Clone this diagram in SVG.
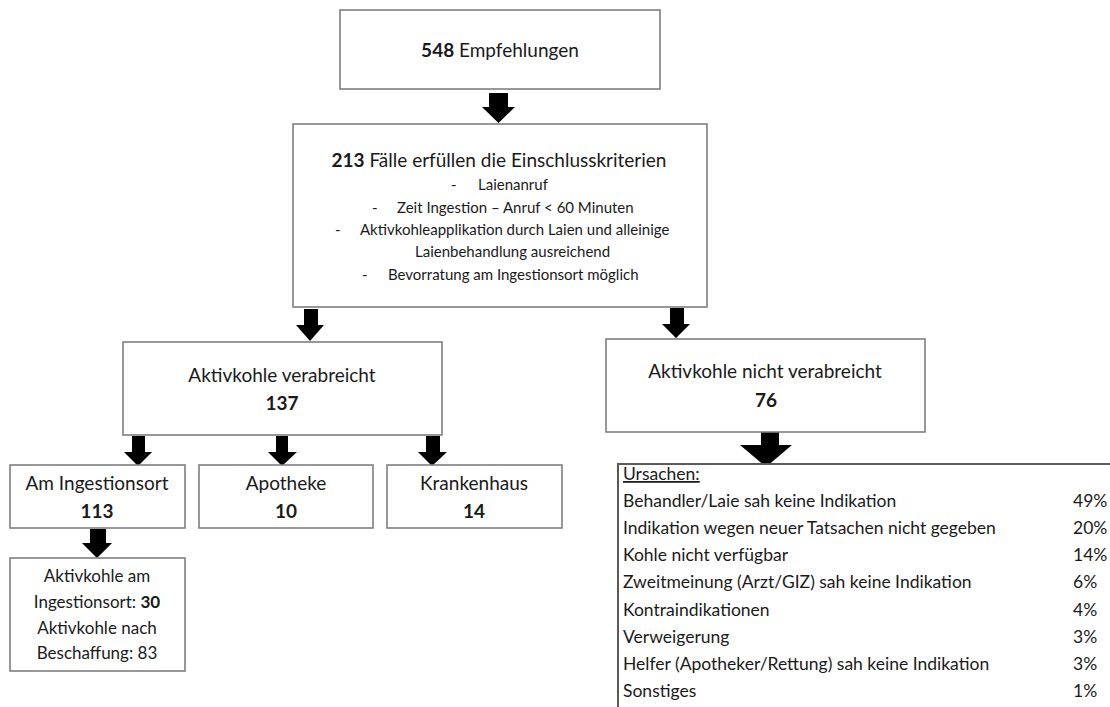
<svg xmlns="http://www.w3.org/2000/svg" width="1110" height="707" viewBox="0 0 1110 707">
<style>
text{font-family:Lato,"Liberation Sans",sans-serif;fill:#1a1a1a}
.b{font-weight:bold}
.box{fill:#fff;stroke:#7f7f7f;stroke-width:1.6}
.c{text-anchor:middle}
.arr{fill:#000}
.l{font-size:19px}
.s{font-size:15px}
.u{font-size:17.5px}
</style>
<rect width="1110" height="707" fill="#fff"/>
<g id="connectors">
<polygon class="arr" points="489,93 508,93 508,107 515,107 498.5,123 482,107 489,107"/>
<polygon class="arr" points="304,309 318,309 318,325 324,325 310,341 296,325 304,325"/>
<polygon class="arr" points="670,308 684,308 684,324 690,324 676,338 662,324 670,324"/>
<polygon class="arr" points="132,436 145,436 145,452 152,452 138,466 124,452 132,452"/>
<polygon class="arr" points="276,436 288,436 288,452 297,452 282,466 268,452 276,452"/>
<polygon class="arr" points="426,436 440,436 440,452 447,452 432,466 418,452 426,452"/>
<polygon class="arr" points="90,529 106,529 106,543 112,543 97,558 82,543 90,543"/>
<polygon class="arr" points="761,423 779,423 779,445 792,445 766,467 740,445 761,445"/>
</g>
<g id="n548">
<rect class="box" x="340" y="10" width="320" height="79"/>
<text class="l c" x="500" y="57"><tspan class="b">548</tspan> Empfehlungen</text>
</g>
<g id="n213">
<rect class="box" x="293" y="124" width="414" height="183"/>
<text class="l c" x="499" y="167"><tspan class="b">213</tspan> Fälle erfüllen die Einschlusskriterien</text>
<text class="s" x="451" y="190">-</text><text class="s" x="478" y="190">Laienanruf</text>
<text class="s" x="372" y="213">-</text><text class="s" x="397" y="213">Zeit Ingestion – Anruf &lt; 60 Minuten</text>
<text class="s" x="335" y="235">-</text><text class="s" x="360" y="235">Aktivkohleapplikation durch Laien und alleinige</text>
<text class="s" x="415" y="257">Laienbehandlung ausreichend</text>
<text class="s" x="362" y="280">-</text><text class="s" x="388" y="280">Bevorratung am Ingestionsort möglich</text>
</g>
<g id="n137">
<rect class="box" x="123" y="342" width="319" height="93"/>
<text class="l c" x="282" y="382">Aktivkohle verabreicht</text>
<text class="l c b" x="282" y="410">137</text>
</g>
<g id="n76">
<rect class="box" x="606" y="339" width="319" height="93"/>
<text class="l c" x="765" y="378">Aktivkohle nicht verabreicht</text>
<text class="l c b" x="766" y="407">76</text>
</g>
<g id="n113">
<rect class="box" x="10" y="465" width="175" height="63"/>
<text class="l c" x="97" y="490">Am Ingestionsort</text>
<text class="l c b" x="97" y="518">113</text>
</g>
<g id="n10">
<rect class="box" x="199" y="465" width="174" height="63"/>
<text class="l c" x="286" y="490">Apotheke</text>
<text class="l c b" x="286" y="518">10</text>
</g>
<g id="n14">
<rect class="box" x="387" y="465" width="175" height="63"/>
<text class="l c" x="474" y="490">Krankenhaus</text>
<text class="l c b" x="474" y="518">14</text>
</g>
<g id="n30">
<rect class="box" x="10" y="558" width="175" height="113"/>
<text class="c" font-size="17" x="97" y="582">Aktivkohle am</text>
<text class="c" font-size="17" x="97" y="608">Ingestionsort: <tspan class="b">30</tspan></text>
<text class="c" font-size="17" x="97" y="634">Aktivkohle nach</text>
<text class="c" font-size="17" x="97" y="659">Beschaffung: 83</text>
</g>
<g id="ursachen">
<rect x="618" y="464" width="520" height="300" fill="#fff" stroke="#5a5a5a" stroke-width="2"/>
<text class="u" x="623" y="480" text-decoration="underline">Ursachen:</text>
<text class="u" x="623" y="507">Behandler/Laie sah keine Indikation</text><text class="u" x="1073" y="507">49%</text>
<text class="u" x="623" y="534">Indikation wegen neuer Tatsachen nicht gegeben</text><text class="u" x="1073" y="534">20%</text>
<text class="u" x="623" y="561">Kohle nicht verfügbar</text><text class="u" x="1073" y="561">14%</text>
<text class="u" x="623" y="588">Zweitmeinung (Arzt/GIZ) sah keine Indikation</text><text class="u" x="1073" y="588">6%</text>
<text class="u" x="623" y="616">Kontraindikationen</text><text class="u" x="1073" y="616">4%</text>
<text class="u" x="623" y="643">Verweigerung</text><text class="u" x="1073" y="643">3%</text>
<text class="u" x="623" y="670">Helfer (Apotheker/Rettung) sah keine Indikation</text><text class="u" x="1073" y="670">3%</text>
<text class="u" x="623" y="697">Sonstiges</text><text class="u" x="1073" y="697">1%</text>
</g>
</svg>
